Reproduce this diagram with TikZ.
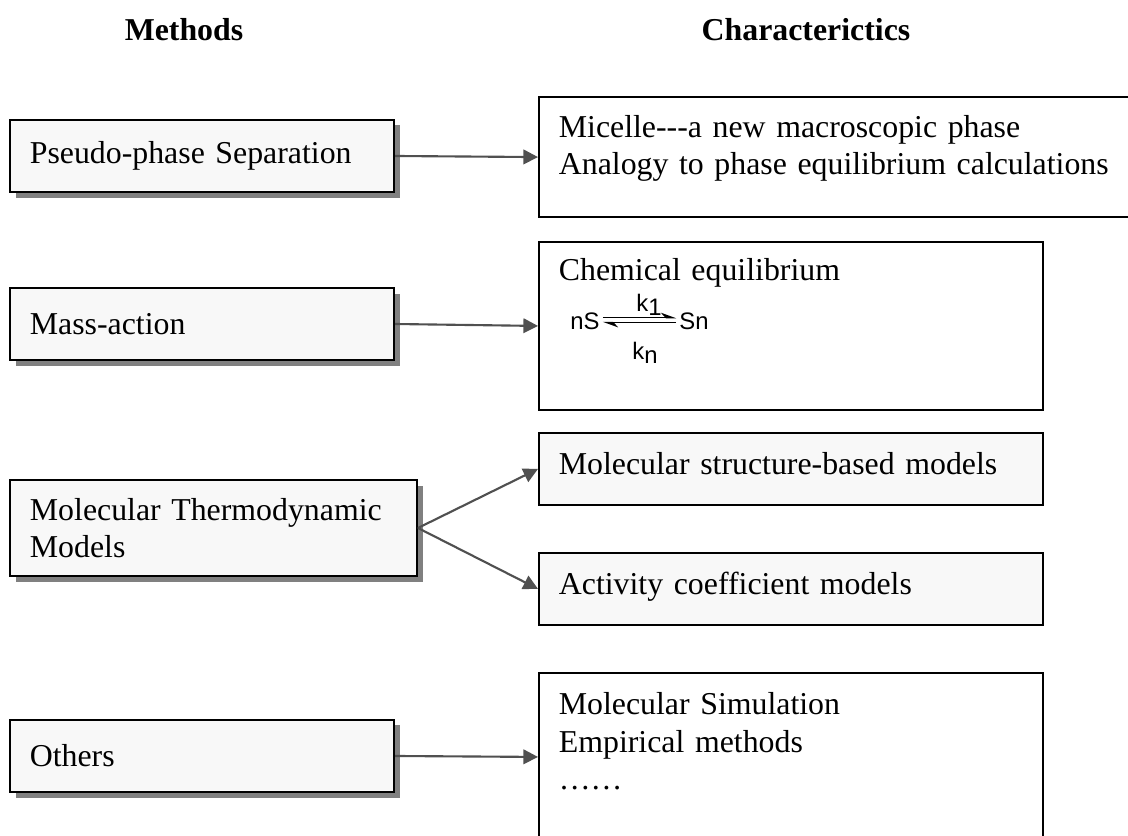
\documentclass[tikz,border=0pt]{standalone}
\usepackage{fontspec}
\setmainfont{Liberation Serif}
\newfontfamily\chemfont{Liberation Sans}
\usepackage{tikz}
\usetikzlibrary{arrows.meta,positioning,shadows}

\definecolor{boxfill}{RGB}{248,248,248}
\definecolor{linkgray}{RGB}{80,80,80}

\begin{document}
\begin{tikzpicture}[
    x=0.377pt, y=-0.377pt,
    font=\fontsize{12}{14}\selectfont,
    title/.style={font=\fontsize{12}{14}\selectfont\bfseries},
    method/.style={draw=black, line width=0.75pt, fill=boxfill,
        align=left, inner xsep=7.5pt, inner ysep=0pt,
        drop shadow={shadow xshift=2.1pt, shadow yshift=-2.1pt,
                     fill=black!50, opacity=1}},
    feature/.style={draw=black, line width=0.75pt, fill=white,
        anchor=north west, align=left, inner xsep=7.5pt, inner ysep=0pt},
    link/.style={draw=linkgray, line width=0.8pt,
        -{Triangle[length=5.5pt,width=5.5pt]}, linkgray},
    chem/.style={font=\chemfont\fontsize{9}{10}\selectfont, inner sep=1pt},
    harp/.style={line width=0.55pt}
]
\useasboundingbox (0,0) rectangle (1128,836);
\clip (0,0) rectangle (1128,836);

% Column titles
\node[title] (hmeth) at (184,30) {Methods};
\node[title] (hchar) at (806,30) {Characterictics};

% Methods (left)
\node[method, text width=129.8pt, minimum height=27.5pt] (m1) at (202,156)
    {Pseudo-phase Separation};
\node[method, text width=129.8pt, minimum height=27.1pt] (m2) at (202,324)
    {Mass-action};
\node[method, text width=138.4pt, minimum height=36.2pt] (m3) at (213.5,528)
    {\mbox{Molecular Thermodynamic}\\Models};
\node[method, text width=129.8pt, minimum height=27.5pt] (m4) at (202,756)
    {Others};

% Characteristics (right)
\node[feature, text width=210pt, text height=15.1pt, text depth=30.2pt] (c1) at (538,96)
    {Micelle-{}-{}-a new macroscopic phase\\Analogy to phase equilibrium calculations};
\node[feature, text width=175pt, text height=14.7pt, text depth=48.6pt] (c2) at (538,241)
    {Chemical equilibrium};
\node[feature, fill=boxfill, text width=175pt, text height=15.8pt, text depth=11.3pt] (c3) at (538,432)
    {Molecular structure-based models};
\node[feature, fill=boxfill, text width=175pt, text height=15.8pt, text depth=11.3pt] (c4) at (538,552)
    {Activity coefficient models};
\node[feature, text width=175pt, text height=15.8pt, text depth=47.5pt] (c5) at (538,672)
    {Molecular Simulation\\Empirical methods\\……};

% Equilibrium nS <=> Sn
\node[chem, anchor=base] (nS) at (585,330) {nS};
\node[chem, anchor=base] (Sn) at (694,330) {Sn};
\node[chem, anchor=base] (k1) at (649,312) {k\raisebox{-1.5pt}{1}};
\node[chem, anchor=base] (kn) at (645,360) {k\raisebox{-1.5pt}{n}};
\draw[harp, -{Stealth[harpoon,length=5pt,width=3.6pt]}]
    ([yshift=1.6pt]nS.east) -- ([yshift=1.6pt]Sn.west);
\draw[harp, -{Stealth[harpoon,length=5pt,width=3.6pt]}]
    ([yshift=-0.3pt]Sn.west) -- ([yshift=-0.3pt]nS.east);

% Links
\draw[link] (m1.east) -- (c1.west);
\draw[link] (m2.east) -- (c2.west);
\draw[link] (m3.east) -- (c3.west);
\draw[link] (m3.east) -- (c4.west);
\draw[link] (m4.east) -- (c5.west);

\end{tikzpicture}
\end{document}
